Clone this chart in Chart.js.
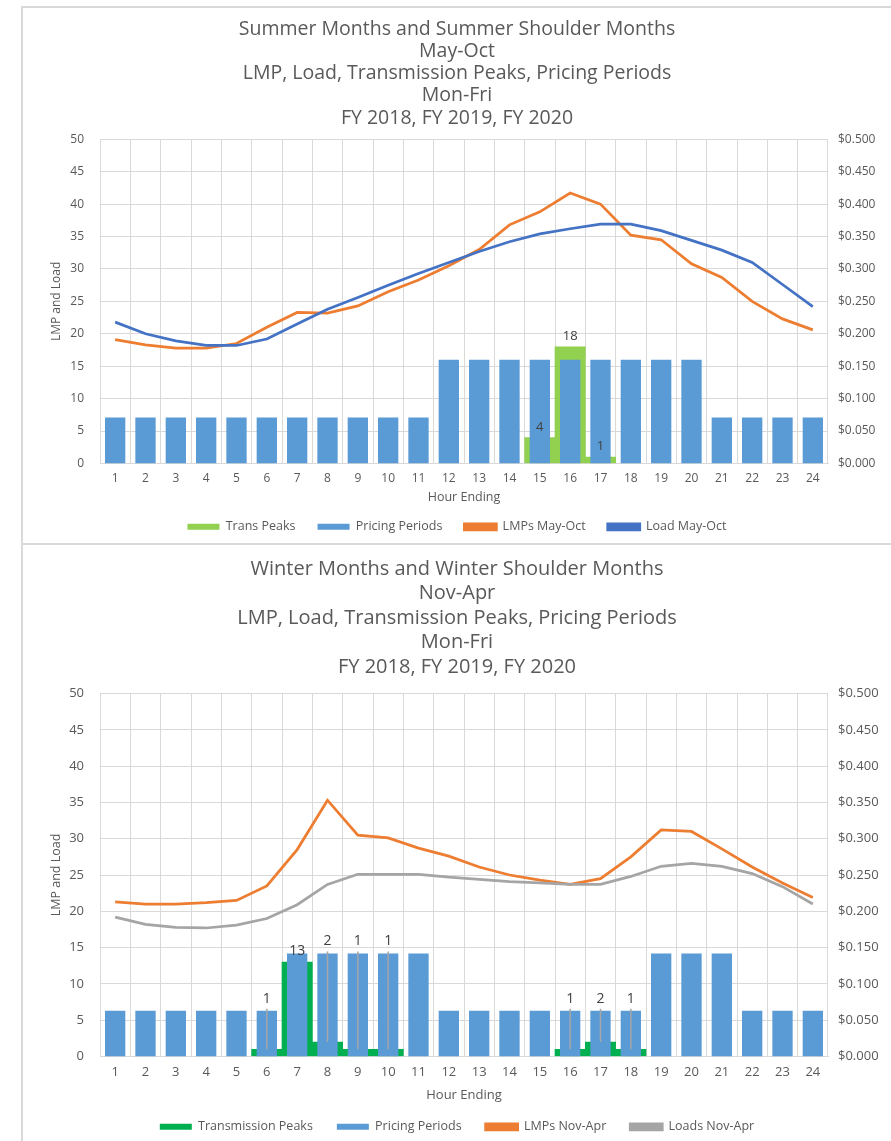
<!DOCTYPE html>
<html>
<head>
<meta charset="utf-8">
<script src="https://cdn.jsdelivr.net/npm/chart.js@4.4.1/dist/chart.umd.min.js"></script>
<style>
  html,body{margin:0;padding:0;background:#fff;width:891px;height:1141px;overflow:hidden;position:relative;}
  .vline{position:absolute;left:21px;top:7px;width:2px;height:1134px;background:#d9d9d9;}
  .hline{position:absolute;left:21px;width:870px;height:2px;background:#d9d9d9;}
  canvas{position:absolute;}
</style>
</head>
<body>
<div class="vline"></div>
<div class="hline" style="top:6px"></div>
<div class="hline" style="top:543px"></div>
<canvas id="c1" width="868" height="535" style="left:23px;top:8px"></canvas>
<canvas id="c2" width="868" height="600" style="left:23px;top:546px"></canvas>
<script>
const hours = ['1','2','3','4','5','6','7','8','9','10','11','12','13','14','15','16','17','18','19','20','21','22','23','24'];

// Summer (May-Oct)
const summerTitle = ['Summer Months and Summer Shoulder Months','May-Oct','LMP, Load, Transmission Peaks, Pricing Periods','Mon-Fri','FY 2018, FY 2019, FY 2020'];
const summerPeaks = [null,null,null,null,null,null,null,null,null,null,null,null,null,null,4,18,1,null,null,null,null,null,null,null];
const summerPricing = [0.071,0.071,0.071,0.071,0.071,0.071,0.071,0.071,0.071,0.071,0.071,0.160,0.160,0.160,0.160,0.160,0.160,0.160,0.160,0.160,0.071,0.071,0.071,0.071];
const summerLMP = [19.1,18.3,17.8,17.8,18.5,21.0,23.3,23.2,24.3,26.5,28.3,30.5,33.0,36.8,38.8,41.7,40.0,35.2,34.5,30.8,28.7,25.0,22.3,20.6];
const summerLoad = [21.8,20.0,18.9,18.2,18.2,19.2,21.5,23.8,25.6,27.5,29.3,31.0,32.7,34.2,35.4,36.2,36.9,36.9,35.9,34.4,32.9,31.0,27.6,24.2];

// Winter (Nov-Apr)
const winterTitle = ['Winter Months and Winter Shoulder Months','Nov-Apr','LMP, Load, Transmission Peaks, Pricing Periods','Mon-Fri','FY 2018, FY 2019, FY 2020'];
const winterPeaks = [null,null,null,null,null,1,13,2,1,1,null,null,null,null,null,1,2,1,null,null,null,null,null,null];
const winterPricing = [0.063,0.063,0.063,0.063,0.063,0.063,0.142,0.142,0.142,0.142,0.142,0.063,0.063,0.063,0.063,0.063,0.063,0.063,0.142,0.142,0.142,0.063,0.063,0.063];
const winterLMP = [21.3,21.0,21.0,21.2,21.5,23.5,28.5,35.3,30.5,30.1,28.7,27.6,26.1,25.0,24.3,23.7,24.5,27.5,31.2,31.0,28.6,26.1,23.9,21.9];
const winterLoad = [19.2,18.2,17.8,17.7,18.1,19.0,20.9,23.7,25.1,25.1,25.1,24.7,24.4,24.1,23.9,23.7,23.7,24.8,26.2,26.6,26.2,25.2,23.4,21.0];

const leftTicks = {min:0,max:50,step:5};
const rightTicks = {min:0,max:0.5,step:0.05};

const TXT = '#595959';
const GRID = '#d9d9d9';
const FONT = "'Open Sans', 'Noto Sans', sans-serif";

const peakLabels = {
  id:'peakLabels',
  afterDatasetsDraw(chart, args, o){
    if(!o || o.peakIndex===undefined) return;
    const ctx = chart.ctx;
    const peaks = chart.data.datasets[o.peakIndex].data;
    const prices = chart.data.datasets[o.priceIndex].data;
    const xs = chart.scales.x, yl = chart.scales.y, yr = chart.scales.y2;
    ctx.save();
    ctx.font = o.font;
    ctx.textAlign = 'center';
    ctx.textBaseline = 'alphabetic';
    peaks.forEach((v,i)=>{
      if(v==null) return;
      const px = xs.getPixelForValue(i);
      const peakTop = yl.getPixelForValue(v);
      let base = peakTop - 7;
      if(o.leader){
        const priceTop = yr.getPixelForValue(prices[i]);
        if(peakTop - priceTop > 15){
          base = priceTop - 8;
          ctx.strokeStyle = '#a6a6a6';
          ctx.lineWidth = 1.5;
          ctx.beginPath();
          ctx.moveTo(px, priceTop - 2);
          ctx.lineTo(px, peakTop);
          ctx.stroke();
        }
      }
      ctx.fillStyle = '#404040';
      ctx.fillText(String(v), px, base);
    });
    ctx.restore();
  }
};

function makeChart(id, cfg){
  return new Chart(document.getElementById(id), {
    data:{
      labels: hours,
      datasets:[
        {type:'bar', label:cfg.peakLabel, data:cfg.peaks, yAxisID:'y', backgroundColor:cfg.peakColor, borderWidth:0,
         grouped:false, barPercentage:1.0, categoryPercentage:1.0, order:3},
        {type:'bar', label:'Pricing Periods', data:cfg.pricing, yAxisID:'y2', backgroundColor:'#5b9bd5', borderWidth:0,
         grouped:false, barPercentage:0.67, categoryPercentage:1.0, order:2},
        {type:'line', label:cfg.lmpLabel, data:cfg.lmp, yAxisID:'y', borderColor:'#ed7d31', backgroundColor:'#ed7d31',
         borderWidth:2.75, pointRadius:0, tension:0, fill:false, order:1},
        {type:'line', label:cfg.loadLabel, data:cfg.load, yAxisID:'y', borderColor:cfg.loadColor, backgroundColor:cfg.loadColor,
         borderWidth:2.75, pointRadius:0, tension:0, fill:false, order:0}
      ]
    },
    options:{
      responsive:false,
      animation:false,
      devicePixelRatio:1,
      layout:{padding:{left:0,right:0,top:0,bottom:cfg.padBottom}},
      plugins:{
        title:{display:true, text:cfg.title, color:TXT,
          font:{family:FONT, size:cfg.titleSize, weight:'normal', lineHeight:cfg.titleLH},
          padding:{top:cfg.titlePadTop, bottom:cfg.titlePadBottom}},
        legend:{position:'bottom',
          labels:{color:TXT, font:{family:FONT, size:cfg.legendSize}, boxWidth:32, boxHeight:6, padding:cfg.legendPad,
            sort:(a,b)=>a.datasetIndex-b.datasetIndex}},
        tooltip:{enabled:false},
        peakLabels:{peakIndex:0, priceIndex:1, leader:cfg.leader, font:cfg.labelFont}
      },
      scales:{
        x:{offset:true,
          grid:{color:GRID, offset:true, drawTicks:false},
          border:{color:GRID},
          ticks:{color:TXT, font:{family:FONT, size:cfg.tickSize}, padding:cfg.xTickPad, maxRotation:0},
          title:{display:true, text:'Hour Ending', color:TXT, font:{family:FONT, size:cfg.axisTitleSize}, padding:{top:0,bottom:cfg.xTitlePadBottom}},
          afterFit(s){ s.height = cfg.xHeight; }
        },
        y:{position:'left', min:leftTicks.min, max:leftTicks.max,
          grid:{color:GRID, drawTicks:false},
          border:{color:GRID},
          ticks:{stepSize:leftTicks.step, color:TXT, font:{family:FONT, size:cfg.tickSize}, padding:cfg.yTickPad},
          title:{display:true, text:'LMP and Load', color:TXT, font:{family:FONT, size:cfg.yTitleSize}, padding:{top:26,bottom:0}},
          afterFit(s){ s.width = cfg.leftW; }
        },
        y2:{position:'right', min:rightTicks.min, max:rightTicks.max,
          grid:{display:false, drawTicks:false},
          border:{display:false},
          ticks:{stepSize:rightTicks.step, color:TXT, font:{family:FONT, size:cfg.tickSize}, padding:10,
            callback:v=>'$'+Number(v).toFixed(3)},
          afterFit(s){ s.width = cfg.rightW; }
        }
      }
    },
    plugins:[peakLabels]
  });
}

makeChart('c1', {
  title:summerTitle, peaks:summerPeaks, pricing:summerPricing, lmp:summerLMP, load:summerLoad,
  peakLabel:'Trans Peaks', lmpLabel:'LMPs May-Oct', loadLabel:'Load May-Oct',
  peakColor:'#92d050', loadColor:'#4472c4', leader:false,
  titleSize:19.5, titleLH:1.141, titlePadTop:10, titlePadBottom:10,
  legendSize:12.5, legendPad:22, tickSize:12, axisTitleSize:12.5, yTitleSize:12,
  xTickPad:8, yTickPad:16, xHeight:35, xTitlePadBottom:-6, leftW:77, rightW:63, padBottom:0,
  labelFont:"13px 'Open Sans', sans-serif"
});

makeChart('c2', {
  title:winterTitle, peaks:winterPeaks, pricing:winterPricing, lmp:winterLMP, load:winterLoad,
  peakLabel:'Transmission Peaks', lmpLabel:'LMPs Nov-Apr', loadLabel:'Loads Nov-Apr',
  peakColor:'#00b050', loadColor:'#a5a5a5', leader:true,
  titleSize:20, titleLH:1.225, titlePadTop:11, titlePadBottom:14,
  legendSize:12.5, legendPad:24, tickSize:13, axisTitleSize:13, yTitleSize:12.5,
  xTickPad:8, yTickPad:16, xHeight:40, xTitlePadBottom:-7, leftW:77, rightW:63, padBottom:3,
  labelFont:"14px 'Open Sans', sans-serif"
});
</script>
</body>
</html>
